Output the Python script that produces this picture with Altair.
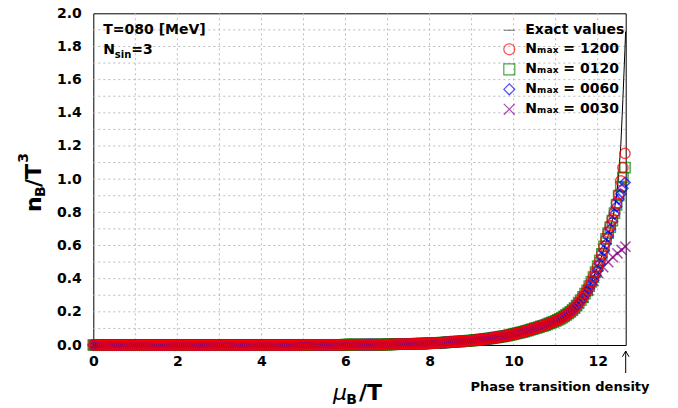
import altair as alt
import pandas as pd

FONT = "DejaVu Sans"
W, H = 532.4, 331.7

# ---------------- data ----------------
S_EXACT = "Exact values"
S1200 = "Nₘₐₓ = 1200"
S0120 = "Nₘₐₓ = 0120"
S0060 = "Nₘₐₓ = 0060"
S0030 = "Nₘₐₓ = 0030"

# common low part, mu_B/T = 0.00 ... 11.50 in steps of 0.05
x_base = [round(0.05 * i, 2) for i in range(231)]
y_base = [
    0, 0, 0, 0, 0, 0, 0, 0, 0, 0, 0, 0, 0, 0, 0, 0, 0, 0, 0, 0,
    0, 0, 0, 0, 0, 0, 0, 0, 0, 0, 0, 0, 0, 0, 0, 0, 0, 0, 0, 0,
    0, 0, 0, 0, 0, 0, 0, 0, 0, 0, 0, 0, 0, 0, 0, 0, 0, 0, 0, 0,
    0, 0, 0, 0, 0, 0, 0, 0, 0, 0, 0, 0, 0, 0, 0, 0, 0, 0, 0, 0,
    0, 0, 0, 0, 0, 0, 0, 0, 0, 0, 0, 0, 0, 0, 0, 0, 0, 0, 0, 0,
    0.001, 0.001, 0.001, 0.001, 0.001, 0.001, 0.001, 0.001, 0.001, 0.001,
    0.001, 0.001, 0.001, 0.001, 0.001, 0.001, 0.001, 0.001, 0.001, 0.001,
    0.002, 0.002, 0.002, 0.002, 0.002, 0.002, 0.002, 0.002, 0.002, 0.002,
    0.003, 0.003, 0.003, 0.003, 0.003, 0.003, 0.003, 0.003, 0.003, 0.003,
    0.004, 0.004, 0.004, 0.004, 0.005, 0.005, 0.005, 0.005, 0.006, 0.006,
    0.006, 0.007, 0.007, 0.007, 0.008, 0.008, 0.008, 0.009, 0.009, 0.010,
    0.011, 0.011, 0.012, 0.012, 0.013, 0.013, 0.014, 0.015, 0.016, 0.017,
    0.018, 0.019, 0.020, 0.020, 0.021, 0.022, 0.023, 0.024, 0.025, 0.026,
    0.027, 0.028, 0.030, 0.031, 0.033, 0.034, 0.036, 0.037, 0.039, 0.040,
    0.042, 0.044, 0.046, 0.048, 0.050, 0.052, 0.055, 0.057, 0.060, 0.063,
    0.066, 0.069, 0.072, 0.075, 0.078, 0.081, 0.085, 0.088, 0.092, 0.096,
    0.100, 0.104, 0.108, 0.112, 0.116, 0.120, 0.125, 0.130, 0.135, 0.140,
    0.146, 0.152, 0.158, 0.165, 0.173, 0.181, 0.190, 0.200, 0.211, 0.223,
    0.237,
]

# upper part, mu_B/T = 11.55 ... 12.65
x_tail = [11.55, 11.6, 11.65, 11.7, 11.75, 11.8, 11.85, 11.9, 11.95, 12.0,
          12.05, 12.1, 12.15, 12.2, 12.25, 12.3, 12.35, 12.4, 12.45, 12.5,
          12.55, 12.6, 12.65]
y_1200_tail = [0.255, 0.27, 0.29, 0.31, 0.33, 0.355, 0.38, 0.41, 0.44, 0.475,
               0.51, 0.55, 0.595, 0.64, 0.68, 0.72, 0.76, 0.80, 0.855, 0.91,
               0.99, 1.07, 1.155]
y_0120_tail = [0.255, 0.27, 0.29, 0.31, 0.33, 0.355, 0.38, 0.41, 0.44, 0.475,
               0.51, 0.55, 0.595, 0.64, 0.675, 0.71, 0.75, 0.795, 0.845, 0.90,
               0.955, 1.01, 1.07]
y_0060_tail = [0.25, 0.265, 0.28, 0.30, 0.32, 0.34, 0.365, 0.39, 0.42, 0.45,
               0.49, 0.53, 0.57, 0.61, 0.655, 0.70, 0.745, 0.79, 0.835, 0.88,
               0.91, 0.945, 0.98]
x_0030_tail = [11.55, 11.66, 11.78, 11.9, 12.01, 12.13, 12.25, 12.36, 12.47,
               12.57, 12.66]
y_0030_tail = [0.25, 0.285, 0.33, 0.385, 0.435, 0.47, 0.50, 0.53, 0.553,
               0.573, 0.593]
x_exact_tail = x_tail + [12.665]
y_exact_tail = [0.26, 0.275, 0.29, 0.31, 0.33, 0.355, 0.38, 0.41, 0.44, 0.47,
                0.505, 0.54, 0.58, 0.62, 0.66, 0.70, 0.755, 0.82, 0.90, 1.03,
                1.2, 1.48, 1.79, 1.89]

x_ticks = [0, 2, 4, 6, 8, 10, 12]
y_ticks = [0.0, 0.2, 0.4, 0.6, 0.8, 1.0, 1.2, 1.4, 1.6, 1.8, 2.0]
x_grid = [1, 2, 3, 4, 5, 6, 7, 8, 9, 10, 11, 12]
y_grid = [0.1, 0.2, 0.3, 0.4, 0.5, 0.6, 0.7, 0.8, 0.9, 1.0,
          1.1, 1.2, 1.3, 1.4, 1.5, 1.6, 1.7, 1.8, 1.9]

series_order = [S_EXACT, S1200, S0120, S0060, S0030]
series_colors = ["#555555", "#ff0000", "#008000", "#0000ff", "#800080"]
CROSS = "M-1,-1L1,1M-1,1L1,-1"
series_shapes = ["stroke", "circle", "square", "diamond", CROSS]

# ---------------- tables ----------------
rows = []
for name, xs_, ys_ in [
    (S0030, x_base + x_0030_tail, y_base + y_0030_tail),
    (S0120, x_base + x_tail, y_base + y_0120_tail),
    (S0060, x_base + x_tail, y_base + y_0060_tail),
    (S1200, x_base + x_tail, y_base + y_1200_tail),
]:
    for xv, yv in zip(xs_, ys_):
        rows.append({"x": xv, "y": yv, "series": name})
pts = pd.DataFrame(rows)
pts["order"] = range(len(pts))

exact = pd.DataFrame({"x": x_base + x_exact_tail, "y": y_base + y_exact_tail})

xs = alt.Scale(domain=[0, 12.667], nice=False, zero=False)
ys = alt.Scale(domain=[0, 2], nice=False, zero=False)
X_AX = alt.Axis(values=x_ticks, format="d", labelPadding=9, labelFlush=False,
                title=None)
Y_AX = alt.Axis(values=y_ticks, format=".1f", labelPadding=12, title=None)

gx = alt.Chart(pd.DataFrame({"g": x_grid})).mark_rule(
    color="#bbbbbb", strokeDash=[2, 3], strokeWidth=1
).encode(x=alt.X("g:Q", scale=xs, axis=X_AX), y=alt.value(0), y2=alt.value(H))

gy = alt.Chart(pd.DataFrame({"g": y_grid})).mark_rule(
    color="#bbbbbb", strokeDash=[2, 3], strokeWidth=1
).encode(y=alt.Y("g:Q", scale=ys, axis=Y_AX), x=alt.value(0), x2=alt.value(W))

line = alt.Chart(exact).mark_line(color="black", strokeWidth=1).encode(
    x=alt.X("x:Q", scale=xs, axis=X_AX),
    y=alt.Y("y:Q", scale=ys, axis=Y_AX),
)

legend = alt.Legend(
    orient="none", legendX=409, legendY=10, title=None,
    labelFont=FONT, labelFontWeight="bold", labelFontSize=14, labelColor="black",
    symbolSize=120, symbolStrokeWidth=1.2, labelOffset=9, rowPadding=4, padding=0,
)

points = alt.Chart(pts).mark_point(filled=False, size=105, strokeWidth=1.5).encode(
    x=alt.X("x:Q", scale=xs, axis=X_AX),
    y=alt.Y("y:Q", scale=ys, axis=Y_AX),
    color=alt.Color("series:N", scale=alt.Scale(domain=series_order, range=series_colors), legend=legend),
    shape=alt.Shape("series:N", scale=alt.Scale(domain=series_order, range=series_shapes), legend=legend),
    order=alt.Order("order:Q"),
)

one = pd.DataFrame({"a": [0]})


def txt(t, x, y, size, weight="bold", style="normal", angle=0, align="left"):
    kw = dict(align=align, baseline="alphabetic", font=FONT, fontSize=size,
              fontWeight=weight, fontStyle=style, color="black")
    if angle:
        kw["angle"] = angle
    return alt.Chart(one).mark_text(**kw).encode(
        x=alt.value(x), y=alt.value(y), text=alt.value(t))


annot = [
    txt("T=080 [MeV]", 10, 21, 14),
    txt("N", 10, 41, 14),
    txt("sin", 21.5, 44.5, 10),
    txt("=3", 38, 41, 14),
    # x axis title
    txt("μ", 239.7, 386.7, 22, weight="normal", style="italic"),
    txt("B", 253, 390.7, 14),
    txt("/T", 265.7, 386.7, 22),
    # y axis title (rotated)
    txt("n", -52.3, 198.7, 22, angle=270),
    txt("B", -48.3, 183.7, 14, angle=270),
    txt("/T", -52.3, 173.7, 22, angle=270),
    txt("3", -65.3, 149.5, 14, angle=270),
    # phase transition note
    txt("Phase transition density", 466.7, 377.7, 13, align="center"),
]

arrow = [
    alt.Chart(one).mark_rule(color="black", strokeWidth=1).encode(
        x=alt.value(W), x2=alt.value(W), y=alt.value(337.7), y2=alt.value(359.7)),
    alt.Chart(one).mark_rule(color="black", strokeWidth=1).encode(
        x=alt.value(W), x2=alt.value(W - 3.3), y=alt.value(337.7), y2=alt.value(343.5)),
    alt.Chart(one).mark_rule(color="black", strokeWidth=1).encode(
        x=alt.value(W), x2=alt.value(W + 3.3), y=alt.value(337.7), y2=alt.value(343.5)),
]

chart = alt.layer(gx, gy, line, points, *annot, *arrow).properties(
    width=W, height=H,
    autosize=alt.AutoSizeParams(type="none"),
    padding={"left": 93.3, "top": 13.3, "right": 678 - 93.3 - W, "bottom": 408 - 13.3 - H},
).configure_view(stroke="black", strokeWidth=1).configure_axis(
    domain=False, ticks=False, tickSize=0, grid=False,
    labelFont=FONT, labelFontWeight="bold", labelFontSize=14, labelColor="black",
)

chart.save("out.html", embed_options={"renderer": "svg", "actions": False})
